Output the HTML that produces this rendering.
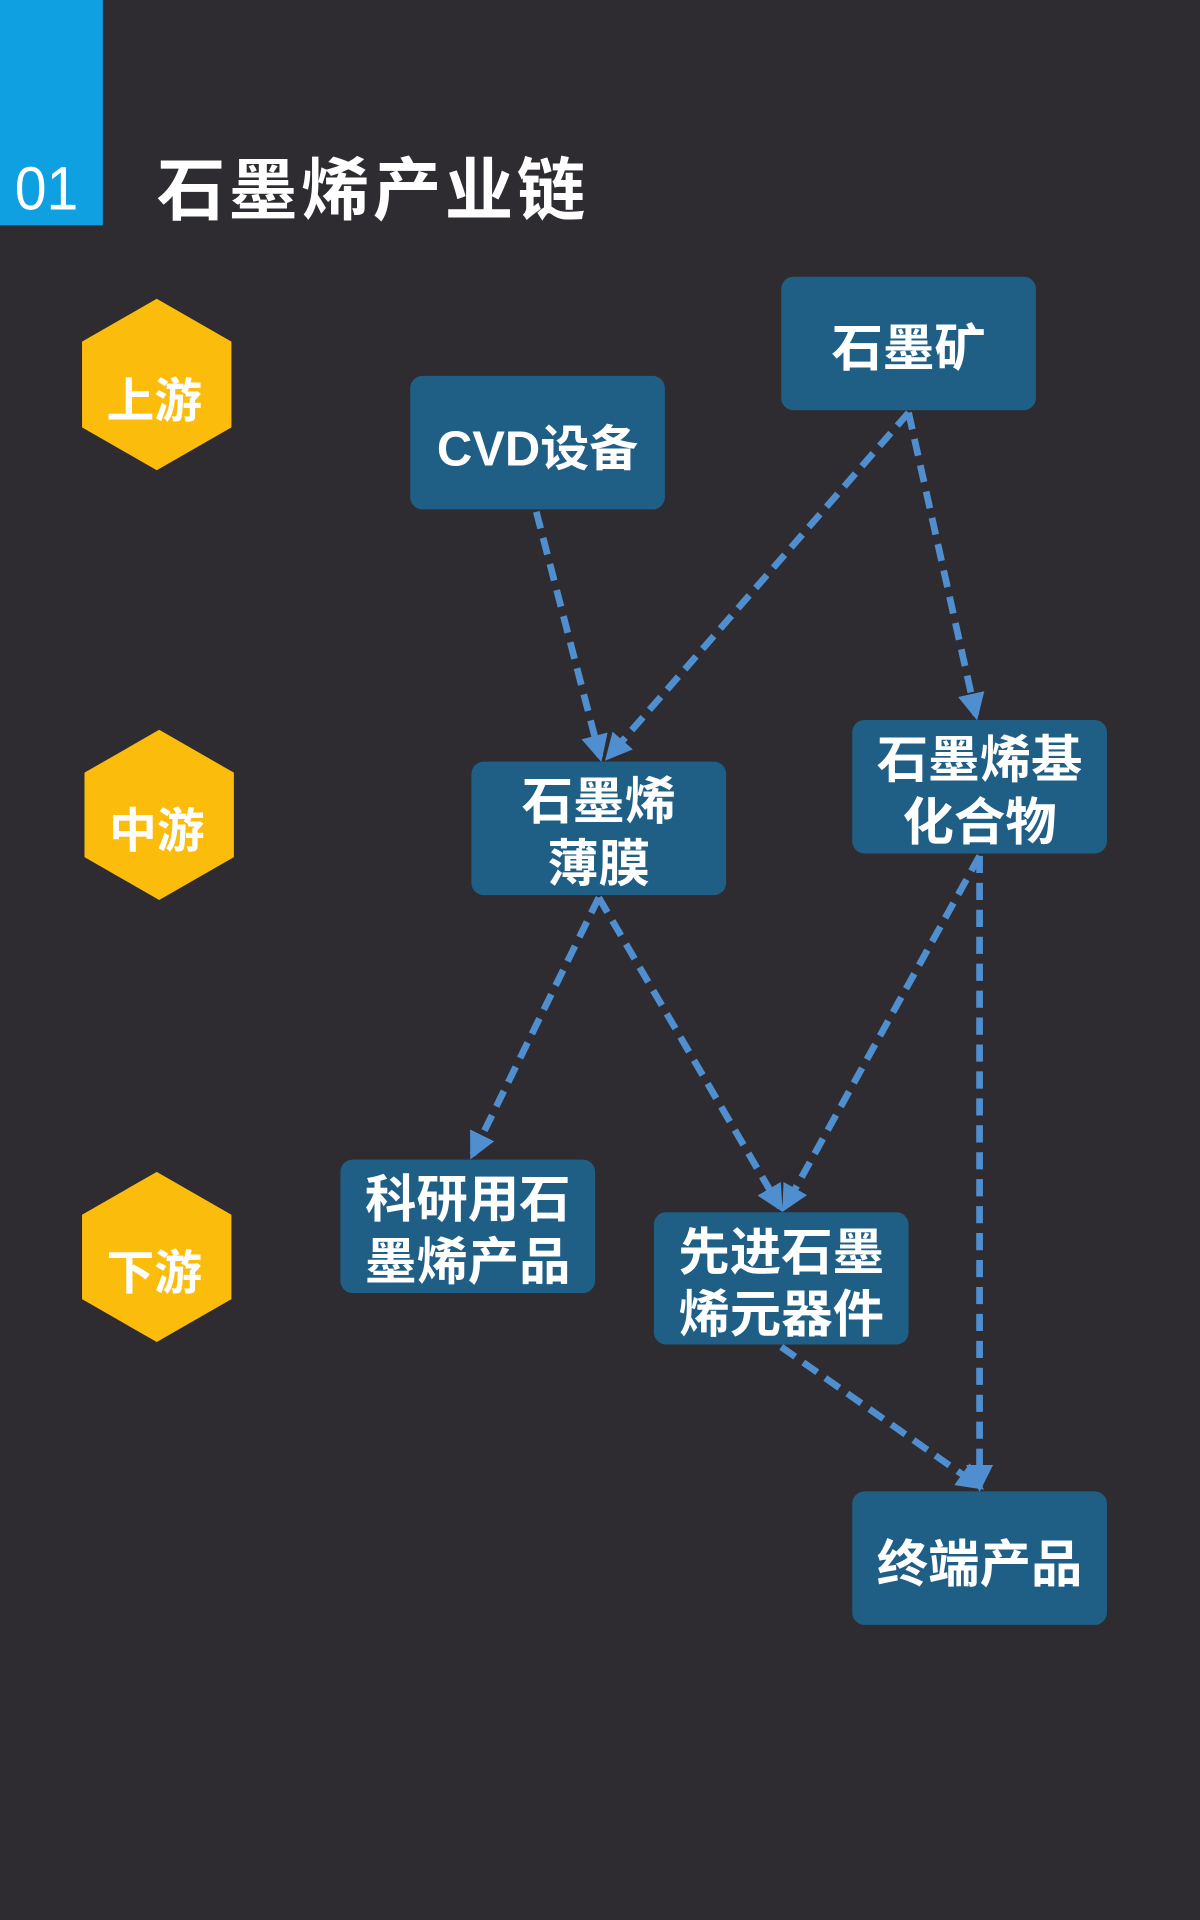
<!DOCTYPE html>
<html><head><meta charset="utf-8"><style>
html,body{margin:0;padding:0;background:#2e2c30;}
svg{display:block;}
text{font-family:"Liberation Sans","Noto Sans CJK SC",sans-serif;}
</style></head><body>
<svg width="1200" height="1920" viewBox="0 0 980 1568" xmlns="http://www.w3.org/2000/svg">
<defs>
<marker id="a" viewBox="0 0 10 10" refX="8" refY="5" markerWidth="4" markerHeight="4" orient="auto"><path d="M0,0 L10,5 L0,10 z" fill="#4f8fd0"/></marker>
</defs>
<rect width="980" height="1568" fill="#2e2c30"/>
<rect x="0" y="0" width="84" height="184" fill="#0ea0e0"/>
<text x="12" y="171" font-size="50" fill="#fff" font-weight="300" textLength="52" lengthAdjust="spacingAndGlyphs">01</text>
<text x="128" y="175" font-size="56" fill="#fff" font-weight="bold" textLength="350" lengthAdjust="spacing">石墨烯产业链</text>
<g fill="#fbbc0b">
<polygon points="128,244 189,279 189,349 128,384 67,349 67,279"/>
<polygon points="130,596 191,631 191,700 130,735 69,700 69,631"/>
<polygon points="128,957 189,992 189,1061 128,1096 67,1061 67,992"/>
</g>
<g fill="#fff" font-size="39" font-weight="bold" text-anchor="middle">
<text x="126" y="341">上游</text>
<text x="128" y="692">中游</text>
<text x="126" y="1053">下游</text>
</g>
<g stroke="#4f8fd0" stroke-width="5.5" stroke-dasharray="14,8" fill="none" marker-end="url(#a)">
<line x1="438" y1="418" x2="490" y2="618"/>
<line x1="742" y1="337" x2="497" y2="618"/>
<line x1="742" y1="337" x2="797" y2="584"/>
<line x1="489" y1="733" x2="386" y2="943"/>
<line x1="489" y1="733" x2="637" y2="986"/>
<line x1="800" y1="699" x2="641" y2="986"/>
<line x1="800" y1="699" x2="800" y2="1214"/>
<line x1="638" y1="1100" x2="800" y2="1214"/>
</g>
<g fill="#1f5f86">
<rect x="638" y="226" width="208" height="109" rx="10"/>
<rect x="335" y="307" width="208" height="109" rx="10"/>
<rect x="385" y="622" width="208" height="109" rx="10"/>
<rect x="696" y="588" width="208" height="109" rx="10"/>
<rect x="278" y="947" width="208" height="109" rx="10"/>
<rect x="534" y="990" width="208" height="108" rx="10"/>
<rect x="696" y="1218" width="208" height="109" rx="10"/>
</g>
<g fill="#fff" font-size="42" font-weight="bold" text-anchor="middle">
<text x="742" y="299">石墨矿</text>
<text x="439" y="380" font-size="40">CVD设备</text>
<text x="489" y="669">石墨烯</text>
<text x="489" y="720">薄膜</text>
<text x="800" y="635">石墨烯基</text>
<text x="800" y="686">化合物</text>
<text x="382" y="994">科研用石</text>
<text x="382" y="1045">墨烯产品</text>
<text x="638" y="1037">先进石墨</text>
<text x="638" y="1088">烯元器件</text>
<text x="800" y="1292">终端产品</text>
</g>
</svg>
</body></html>
